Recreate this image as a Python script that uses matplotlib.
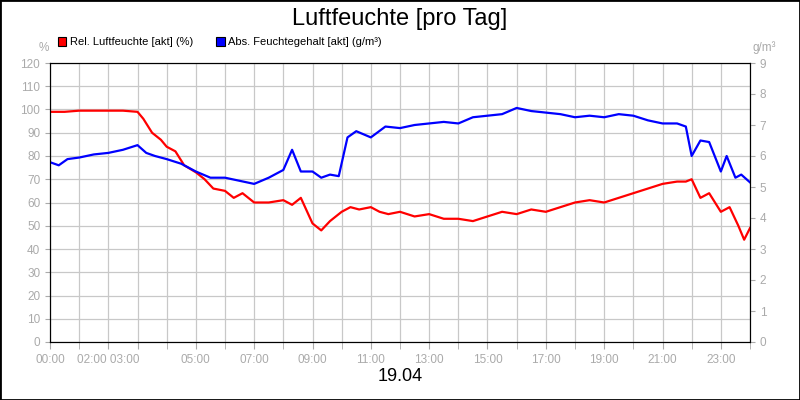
import matplotlib
matplotlib.use("Agg")
import matplotlib.pyplot as plt
from matplotlib.patches import Rectangle
plt.rcParams["font.family"] = "Liberation Sans"

hours_rel = [0,0.5,1,1.5,2,2.5,3,3.2,3.5,3.8,4,4.3,4.6,5,5.3,5.6,6,6.3,6.6,7,7.5,8,8.3,8.6,9,9.3,9.6,10,10.3,10.6,11,11.3,11.6,12,12.5,13,13.5,14,14.5,15,15.5,16,16.5,17,17.5,18,18.5,19,19.5,20,20.5,21,21.5,21.8,22,22.3,22.6,23,23.3,23.6,23.8,24]
rel = [99,99,99.5,99.5,99.5,99.5,99,96,90,87,84,82,76,73,70,66,65,62,64,60,60,61,59,62,51,48,52,56,58,57,58,56,55,56,54,55,53,53,52,54,56,55,57,56,58,60,61,60,62,64,66,68,69,69,70,62,64,56,58,50,44,49]

hours_abs = [0,0.3,0.6,1,1.5,2,2.5,3,3.3,3.6,4,4.5,5,5.5,6,6.5,7,7.5,8,8.3,8.6,9,9.3,9.6,9.9,10.2,10.5,11,11.5,12,12.5,13,13.5,14,14.5,15,15.5,16,16.5,17,17.5,18,18.5,19,19.5,20,20.5,21,21.5,21.8,22,22.3,22.6,23,23.2,23.5,23.7,24]
absv = [5.8,5.7,5.9,5.95,6.05,6.1,6.2,6.35,6.1,6.0,5.9,5.75,5.5,5.3,5.3,5.2,5.1,5.3,5.55,6.2,5.5,5.5,5.3,5.4,5.35,6.6,6.8,6.6,6.95,6.9,7.0,7.05,7.1,7.05,7.25,7.3,7.35,7.55,7.45,7.4,7.35,7.25,7.3,7.25,7.35,7.3,7.15,7.05,7.05,6.95,6.0,6.5,6.45,5.5,6.0,5.3,5.4,5.15]

x_tick_pos = [0,2,3,5,7,9,11,13,15,17,19,21,23]
x_tick_lab = ["00:00","02:00 03:00","","05:00","07:00","09:00","11:00","13:00","15:00","17:00","19:00","21:00","23:00"]
title = "Luftfeuchte [pro Tag]"
date_label = "19.04"
legend_labels = ["Rel. Luftfeuchte [akt] (%)", "Abs. Feuchtegehalt [akt] (g/m³)"]

gray = "#aaaaaa"
fig = plt.figure(figsize=(8,4), dpi=100)
fig.patches.append(Rectangle((0,0),1,1,transform=fig.transFigure,fill=False,edgecolor="black",linewidth=2))
ax = fig.add_axes([0.0625,0.145,0.875,0.6975])
ax.plot(hours_rel, rel, color="#ff0000", linewidth=1.6)
ax.set_xlim(0,24); ax.set_ylim(0,120)
ax.set_yticks(range(0,121,10))
ax.set_xticks(range(0,25), minor=True)
ax.set_xticks(x_tick_pos); ax.set_xticklabels(x_tick_lab)
ax.grid(True, which="both", color="#c8c8c8", linewidth=0.9)
ax.set_axisbelow(True)
ax.tick_params(colors=gray, labelsize=8.5, which="both")
ax.tick_params(axis="x", which="both", length=5)
ax2 = ax.twinx()
ax2.plot(hours_abs, absv, color="#0000ff", linewidth=1.6)
ax2.set_ylim(0,9); ax2.set_yticks(range(0,10))
ax2.tick_params(colors=gray, labelsize=8.5)
for a in (ax, ax2):
    for s in a.spines.values():
        s.set_color("black")
fig.text(0.5,0.953,title,ha="center",va="center",fontsize=17)
fig.text(0.5,0.058,date_label,ha="center",va="center",fontsize=13)
fig.text(0.055,0.873,"%",ha="center",color=gray,fontsize=8.5)
fig.text(0.955,0.873,"g/m³",ha="center",color=gray,fontsize=8.5)
fig.patches.append(Rectangle((0.072,0.885),0.011,0.022,transform=fig.transFigure,facecolor="#ff0000",edgecolor="black",linewidth=0.8))
fig.text(0.087,0.896,legend_labels[0],va="center",fontsize=8)
fig.patches.append(Rectangle((0.27,0.885),0.011,0.022,transform=fig.transFigure,facecolor="#0000ff",edgecolor="black",linewidth=0.8))
fig.text(0.285,0.896,legend_labels[1],va="center",fontsize=8)
fig.savefig("out.png", dpi=100)
